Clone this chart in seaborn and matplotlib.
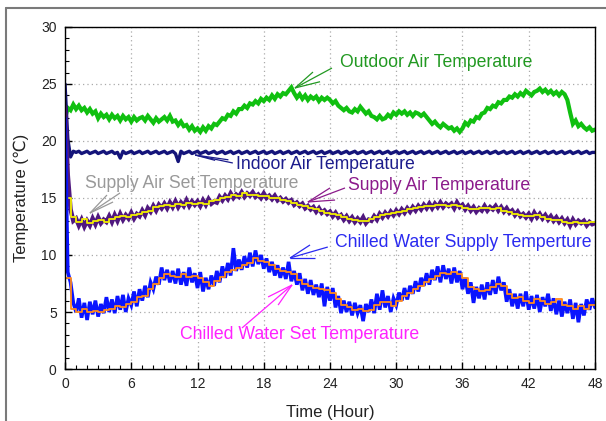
import numpy as np
import pandas as pd
import matplotlib
matplotlib.use("Agg")
import matplotlib.pyplot as plt
from matplotlib.lines import Line2D
import seaborn as sns

# ---------------- data ----------------
# noisy measured series, every 0.25 h from 0 to 48 h
time_q = [i * 0.25 for i in range(193)]
time_h = [i * 0.5 for i in range(97)]

outdoor_air = [
    22.0, 22.9, 22.7, 23.2,  22.8, 23.1, 22.7, 22.9,  22.5, 22.8, 22.4, 22.6,
    22.0, 22.4, 22.1, 22.3,  21.9, 22.3, 22.0, 22.2,  21.8, 22.2, 21.9, 22.1,
    21.7, 22.1, 21.8, 22.0,  22.1, 21.8, 22.2, 21.9,  21.6, 22.0, 21.7, 21.9,
    22.1, 21.8, 22.2, 21.7,  21.8, 21.4, 21.7, 21.3,  21.4, 21.0, 21.3, 20.9,
    21.1, 20.8, 21.2, 20.9,  21.3, 21.1, 21.5, 21.4,  21.7, 22.0, 21.9, 22.3,
    22.2, 22.6, 22.4, 22.8,  22.8, 23.1, 22.9, 23.3,  23.2, 23.5, 23.3, 23.7,
    23.5, 23.8, 23.6, 24.0,  23.7, 24.1, 23.9, 24.2,  24.1, 24.4, 24.7, 24.2,
    23.8, 24.1, 23.7, 24.0,  23.6, 23.9, 23.7, 23.9,  23.5, 23.8, 23.6, 23.8,
    23.6, 23.3, 23.5, 23.1,  22.9, 22.7, 22.9, 22.6,  22.5, 22.8, 22.6, 23.0,
    22.7, 22.4, 22.6, 22.2,  22.1, 21.9, 22.2, 21.9,  22.0, 22.3, 22.1, 22.5,
    22.3, 22.6, 22.4, 22.6,  22.3, 22.5, 22.2, 22.5,  22.4, 22.2, 22.4, 22.1,
    21.8, 21.5, 21.7, 21.4,  21.2, 21.5, 21.3, 21.1,  21.2, 20.9, 21.1, 20.8,
    21.1, 21.6, 21.4, 21.8,  21.7, 22.1, 22.0, 22.4,  22.5, 22.9, 22.8, 23.1,
    23.0, 23.4, 23.3, 23.6,  23.6, 23.9, 23.8, 24.1,  23.9, 24.2, 24.0, 24.4,
    24.2, 24.0, 24.3, 24.4,  24.6, 24.3, 24.5, 24.2,  24.4, 24.1, 24.3, 24.0,
    24.3, 24.1, 23.6, 22.5,  21.5, 21.8, 21.3, 21.5,  21.2, 21.0, 21.2, 20.9,
    21.0]

indoor_air = [
    25.0, 20.2, 18.6, 19.1,  19.0, 19.1, 18.9, 19.0,  19.1, 18.9, 19.0, 19.1,
    18.9, 19.0, 19.1, 18.9,  19.0, 19.1, 18.9, 19.0,  18.5, 19.1, 18.9, 19.0,
    19.1, 18.9, 19.0, 19.1,  18.9, 19.0, 19.1, 18.9,  19.0, 19.1, 18.9, 19.0,
    19.1, 18.9, 19.0, 19.1,  18.9, 18.2, 19.1, 18.9,  19.0, 19.1, 18.9, 19.0,
    19.1, 18.9, 19.0, 19.1,  18.9, 19.0, 19.1, 18.9,  19.0, 19.1, 18.9, 19.0,
    19.1, 18.9, 19.0, 19.1,  18.9, 19.0, 19.1, 18.9,  19.0, 19.1, 18.9, 19.0,
    19.1, 18.9, 19.0, 19.1,  18.9, 19.0, 19.1, 18.9,  19.0, 19.1, 18.9, 19.0,
    19.1, 18.9, 19.0, 19.1,  18.9, 19.0, 19.1, 18.9,  19.0, 19.1, 18.9, 19.0,
    19.1, 18.9, 19.0, 19.1,  18.9, 19.0, 19.1, 18.9,  19.0, 19.1, 18.9, 19.0,
    19.1, 18.9, 19.0, 19.1,  18.9, 19.0, 19.1, 18.9,  19.0, 19.1, 18.9, 19.0,
    19.1, 18.9, 19.0, 19.1,  18.9, 19.0, 19.1, 18.9,  19.0, 19.1, 18.9, 19.0,
    19.1, 18.9, 19.0, 19.1,  18.9, 19.0, 19.1, 18.9,  19.0, 19.1, 18.9, 19.0,
    19.1, 18.9, 19.0, 19.1,  18.9, 19.0, 19.1, 18.9,  19.0, 19.1, 18.9, 19.0,
    19.1, 18.9, 19.0, 19.1,  18.9, 19.0, 19.1, 18.9,  19.0, 19.1, 18.9, 19.0,
    19.1, 18.9, 19.0, 19.1,  18.9, 19.0, 19.1, 18.9,  19.0, 19.1, 18.9, 19.0,
    19.1, 18.9, 19.0, 19.1,  18.9, 19.0, 19.1, 18.9,  19.0, 19.1, 18.9, 19.0,
    19.0]

supply_air = [
    23.0, 17.0, 14.0, 13.0,  13.2, 12.6, 13.1, 12.5,  13.0, 12.6, 13.2, 12.7,
    13.3, 12.8, 13.1, 12.9,  13.4, 12.9, 13.5, 13.0,  13.6, 13.1, 13.5, 13.2,
    13.7, 13.2, 13.6, 13.4,  13.9, 13.5, 14.1, 13.8,  14.3, 13.9, 14.4, 14.1,
    14.5, 14.1, 14.6, 14.2,  14.7, 14.2, 14.6, 14.3,  14.8, 14.3, 14.7, 14.4,
    14.7, 14.3, 14.8, 14.4,  14.9, 14.5, 14.7, 14.6,  15.1, 14.8, 15.2, 14.9,
    15.4, 15.0, 15.3, 15.1,  15.5, 15.1, 15.4, 15.2,  15.5, 15.1, 15.3, 15.0,
    15.4, 15.0, 15.2, 14.9,  15.2, 14.8, 15.0, 14.7,  14.9, 14.6, 14.8, 14.4,
    14.6, 14.3, 14.5, 14.1,  14.3, 14.0, 14.2, 13.8,  14.1, 13.7, 13.9, 13.6,
    13.8, 13.4, 13.7, 13.3,  13.5, 13.1, 13.4, 13.0,  13.3, 12.9, 13.2, 12.9,
    13.3, 12.8, 13.1, 13.0,  13.4, 13.1, 13.6, 13.3,  13.7, 13.4, 13.8, 13.5,
    13.9, 13.6, 14.0, 13.7,  14.1, 13.8, 14.2, 13.9,  14.3, 14.0, 14.4, 14.1,
    14.5, 14.1, 14.5, 14.2,  14.6, 14.2, 14.5, 14.3,  14.5, 14.1, 14.6, 14.2,
    14.4, 14.0, 14.3, 13.9,  14.2, 13.8, 14.1, 13.9,  14.3, 13.9, 14.2, 14.0,
    14.3, 13.9, 14.2, 13.8,  14.1, 13.7, 13.9, 13.5,  13.8, 13.4, 13.6, 13.3,
    13.6, 13.2, 13.7, 13.3,  13.6, 13.2, 13.5, 13.1,  13.4, 13.0, 13.3, 12.9,
    13.2, 12.8, 13.1, 12.6,  13.1, 12.7, 13.0, 12.8,  13.0, 12.6, 12.9, 12.7,
    12.8]

chilled_water_supply = [
    22.0, 8.5, 7.6, 5.8,  5.0, 6.2, 4.5, 5.8,  4.3, 5.9, 4.8, 6.0,
    4.6, 5.7, 4.9, 6.3,  5.0, 6.1, 4.9, 6.4,  5.2, 6.5, 5.0, 6.2,
    5.6, 6.8, 5.5, 7.0,  6.0, 7.3, 6.3, 7.6,  7.0, 8.1, 7.4, 8.9,
    7.8, 8.7, 7.6, 8.6,  7.5, 8.8, 7.4, 8.5,  7.3, 8.9, 7.6, 8.4,
    7.1, 8.5, 6.8, 8.0,  7.0, 8.2, 7.3, 8.6,  7.6, 9.0, 8.0, 9.3,
    8.2, 10.6, 8.6, 9.6,  8.7, 9.9, 8.9, 10.2,  9.0, 10.4, 9.2, 10.0,
    8.8, 9.7, 8.5, 9.4,  8.2, 9.1, 8.0, 8.9,  7.9, 9.4, 7.7, 8.6,
    7.4, 8.4, 6.9, 7.9,  6.6, 7.8, 6.5, 7.4,  6.3, 7.5, 5.5, 7.2,
    6.0, 7.1, 5.4, 6.4,  4.9, 6.0, 5.0, 5.9,  4.7, 5.8, 4.9, 5.6,
    4.2, 5.7, 5.0, 6.1,  4.9, 6.6, 5.2, 6.9,  5.4, 6.4, 5.0, 6.2,
    5.6, 6.7, 6.0, 7.1,  6.1, 7.3, 6.6, 7.7,  6.8, 8.0, 7.3, 8.4,
    7.4, 8.7, 7.8, 9.0,  7.6, 9.1, 7.9, 8.8,  7.5, 8.9, 7.6, 8.6,
    7.0, 8.0, 6.6, 7.6,  5.8, 7.2, 6.2, 7.4,  6.1, 7.6, 6.5, 7.8,
    6.6, 8.1, 6.9, 7.6,  5.9, 7.0, 5.5, 6.6,  5.3, 6.6, 5.5, 6.8,
    5.2, 6.4, 5.3, 6.5,  5.0, 6.3, 5.5, 6.6,  5.1, 6.2, 4.8, 6.0,
    4.6, 5.9, 4.9, 6.1,  4.4, 5.8, 4.1, 5.7,  4.7, 6.1, 5.2, 6.2,
    5.4]

# set-point series, every 0.5 h (stepped)
supply_air_set = [
    15.0, 13.3, 12.9, 13.2, 12.8, 13.0, 13.1, 12.9, 13.2, 13.3, 13.4, 13.3,
    13.5, 13.6, 13.8, 13.9, 14.2, 14.3, 14.4, 14.3, 14.5, 14.4, 14.6, 14.5,
    14.6, 14.5, 14.7, 14.8, 15.0, 15.1, 15.3, 15.2, 15.4, 15.3, 15.3, 15.2,
    15.2, 15.0, 15.0, 14.8, 14.7, 14.6, 14.4, 14.3, 14.1, 14.0, 13.9, 13.7,
    13.6, 13.5, 13.3, 13.2, 13.1, 13.0, 13.0, 13.2, 13.3, 13.5, 13.6, 13.7,
    13.8, 13.9, 14.0, 14.1, 14.2, 14.3, 14.3, 14.4, 14.4, 14.3, 14.4, 14.3,
    14.1, 14.0, 14.0, 14.1, 14.1, 14.0, 14.1, 13.9, 13.8, 13.6, 13.5, 13.4,
    13.4, 13.5, 13.3, 13.2, 13.1, 13.1, 12.9, 12.8, 12.9, 12.8, 12.8, 12.9,
    12.9]

chilled_water_set = [
    8.0, 5.3, 5.0, 5.3, 5.0, 5.1, 5.0, 5.2, 5.3, 5.5, 5.4, 5.7,
    5.9, 6.3, 6.4, 7.0, 7.5, 8.0, 8.3, 8.2, 8.1, 8.3, 8.1, 8.2,
    8.0, 7.6, 7.3, 7.7, 8.1, 8.5, 8.7, 8.9, 9.1, 9.3, 9.7, 9.5,
    9.4, 9.1, 8.8, 8.6, 8.5, 8.3, 7.8, 7.5, 7.3, 7.1, 7.0, 6.9,
    6.7, 6.1, 5.6, 5.4, 5.2, 5.3, 5.1, 5.2, 5.6, 5.9, 5.9, 5.5,
    6.0, 6.4, 6.7, 7.0, 7.3, 7.6, 7.9, 8.2, 8.4, 8.3, 8.5, 8.3,
    8.0, 7.2, 7.0, 6.8, 6.9, 7.2, 7.5, 7.3, 6.6, 6.2, 6.3, 6.0,
    5.8, 6.1, 6.0, 5.7, 5.9, 6.1, 5.6, 5.5, 5.3, 5.5, 5.3, 5.6,
    5.6]

x_ticks = [0, 6, 12, 18, 24, 30, 36, 42, 48]
y_ticks = [0, 5, 10, 15, 20, 25, 30]

labels = ["Outdoor Air Temperature", "Indoor Air Temperature",
          "Supply Air Set Temperature", "Supply Air Temperature",
          "Chilled Water Supply Temperture", "Chilled Water Set Temperature"]

# ---------------- figure ----------------
sns.set_theme(style="white")
plt.rcParams["font.family"] = ["Liberation Sans", "DejaVu Sans"]

fig = plt.figure(figsize=(6.06, 4.21), dpi=100)
fig.patch.set_facecolor("white")
ax = fig.add_axes([0.1073, 0.1235, 0.8745, 0.8124])

df_q = pd.DataFrame({"t": time_q, "out": outdoor_air, "ind": indoor_air,
                     "sup": supply_air, "cw": chilled_water_supply})
df_h = pd.DataFrame({"t": time_h, "supset": supply_air_set,
                     "cwset": chilled_water_set})

common = dict(estimator=None, sort=False, legend=False, ax=ax)
sns.lineplot(data=df_q, x="t", y="out", color="#10c010", lw=3.0,
             solid_joinstyle="miter", **common)
sns.lineplot(data=df_q, x="t", y="ind", color="#14147a", lw=2.4, **common)
sns.lineplot(data=df_q, x="t", y="sup", color="#50187f", lw=3.2,
             solid_joinstyle="miter", **common)
sns.lineplot(data=df_h, x="t", y="supset", color="#f2f000", lw=1.3,
             drawstyle="steps-post", **common)
sns.lineplot(data=df_q, x="t", y="cw", color="#0a14ff", lw=2.6,
             solid_joinstyle="miter", **common)
sns.lineplot(data=df_h, x="t", y="cwset", color="#ff8a1e", lw=1.3,
             drawstyle="steps-post", **common)

ax.set_xlim(0, 48)
ax.set_ylim(0, 30)
ax.set_xticks(x_ticks)
ax.set_yticks(y_ticks)
ax.set_xticks(np.arange(0, 49, 1), minor=True)
ax.set_yticks(np.arange(0, 31, 1), minor=True)
ax.tick_params(which="both", direction="in", bottom=True, left=True,
               top=False, right=False, colors="black", labelsize=10)
ax.tick_params(which="major", length=5, width=1, pad=6)
ax.tick_params(which="minor", length=3, width=0.8)
for lbl in ax.get_xticklabels() + ax.get_yticklabels():
    lbl.set_color("#222222")
ax.grid(True, which="major", color="#aaaaaa", linestyle=(0, (1, 2.5)), lw=0.9)
for s in ax.spines.values():
    s.set_visible(True)
    s.set_color("black")
    s.set_linewidth(1.0)

ax.set_xlabel("Time (Hour)", fontsize=12, color="#222222", labelpad=10)
ax.set_ylabel("Temperature (℃)", fontsize=12, color="#222222", labelpad=9)

# ---------------- annotations (fan of leader lines) ----------------
annos = [
    (labels[0], "#229922", (24.9, 26.9), (20.83, 24.65),
     [(22.46, 26.05), (24.18, 26.4), (23.1, 25.2)]),
    (labels[1], "#1c1c8c", (15.5, 17.9), (11.78, 18.77),
     [(15.2, 18.07), (14.8, 18.35), (13.6, 18.3)]),
    (labels[2], "#999999", (1.8, 16.3), (2.26, 13.68),
     [(3.8, 15.26), (4.98, 15.44), (4.35, 14.65)]),
    (labels[3], "#8b1a8b", (25.6, 16.1), (22.0, 14.65),
     [(24.0, 15.88), (25.36, 15.88), (24.46, 14.82)]),
    (labels[4], "#2a2af0", (24.46, 11.14), (20.38, 9.74),
     [(22.19, 10.88), (23.8, 10.7), (22.64, 9.74)]),
    (labels[5], "#ff22ff", (10.4, 3.07), (20.56, 7.37),
     [(16.03, 3.6), (18.39, 6.32), (19.3, 5.61)]),
]
for text, col, tpos, tip, ends in annos:
    for e in ends:
        ax.plot([e[0], tip[0]], [e[1], tip[1]], color=col, lw=0.9,
                solid_capstyle="butt", zorder=5)
    ax.text(tpos[0], tpos[1], text, color=col, fontsize=12.7,
            ha="left", va="center", zorder=6)

# outer frame
fig.add_artist(Line2D([6 / 606, 6 / 606], [0, 1 - 8 / 421],
                      transform=fig.transFigure, color="#7a7a7a", lw=1.5))
fig.add_artist(Line2D([6 / 606, 1], [1 - 8 / 421, 1 - 8 / 421],
                      transform=fig.transFigure, color="#7a7a7a", lw=1.5))

fig.savefig("out.png", dpi=100)
